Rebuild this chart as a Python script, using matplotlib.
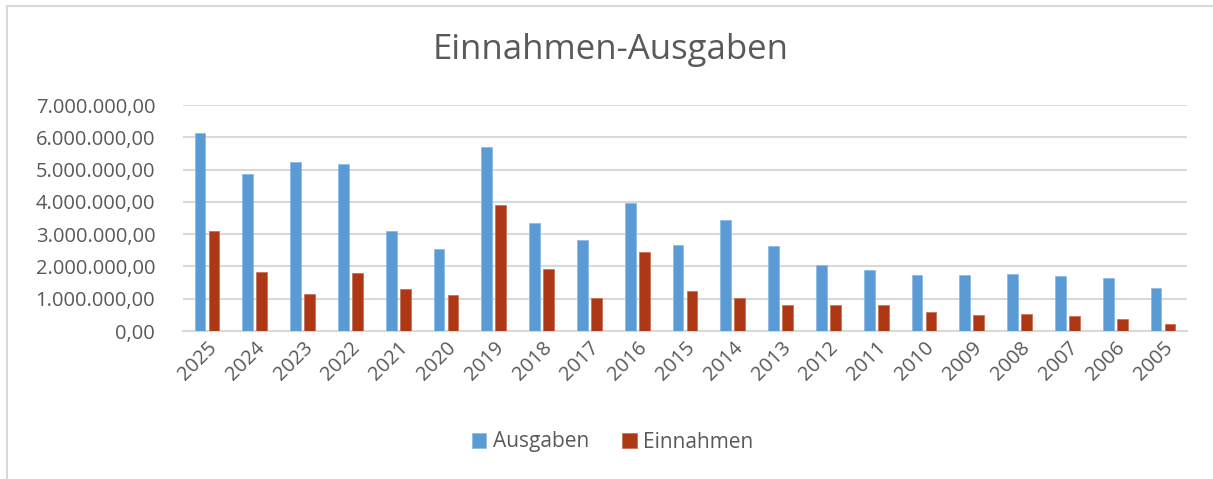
#!/usr/bin/env python3

import numpy as np
import matplotlib
matplotlib.use('Agg')
from matplotlib import pyplot as plt
from matplotlib.ticker import FuncFormatter, MultipleLocator
from matplotlib.lines import Line2D

years = ['2025', '2024', '2023', '2022', '2021', '2020', '2019', '2018', '2017', '2016', '2015',
         '2014', '2013', '2012', '2011', '2010', '2009', '2008', '2007', '2006', '2005']

# values
ausgaben = [6140000, 4860000, 5230000, 5170000, 3110000, 2550000, 5710000, 3340000, 2810000, 3970000, 2660000,
            3440000, 2620000, 2030000, 1880000, 1750000, 1740000, 1760000, 1710000, 1630000, 1330000]
einnahmen = [3090000, 1820000, 1160000, 1810000, 1290000, 1110000, 3900000, 1930000, 1020000, 2460000, 1230000,
             1010000, 820000, 790000, 820000, 580000, 490000, 540000, 460000, 370000, 220000]

blue = '#5B9BD5'
red = '#AE3816'
grey = '#595959'
gridc = '#D9D9D9'

plt.rcParams['font.family'] = ['Open Sans', 'DejaVu Sans']

fig = plt.figure(figsize=(12.13, 4.79), dpi=100)
ax = fig.add_axes([183 / 1213, 1 - 331 / 479, (1187 - 183) / 1213, (331 - 105) / 479])

x = np.arange(len(years))
w = 0.225
off = 0.146
ax.bar(x - off, ausgaben, w, color=blue, edgecolor='#8DBCE6', linewidth=0.6, label='Ausgaben', zorder=3)
ax.bar(x + off, einnahmen, w, color=red, edgecolor='#C8735A', linewidth=0.6, label='Einnahmen', zorder=3)

ax.set_xlim(-0.5, len(years) - 0.5)
ax.set_ylim(0, 7000000)
ax.yaxis.set_major_locator(MultipleLocator(1000000))


def de_fmt(v, pos):
    s = '{:,.2f}'.format(v)
    return s.replace(',', 'X').replace('.', ',').replace('X', '.')


ax.yaxis.set_major_formatter(FuncFormatter(de_fmt))
ax.grid(axis='y', color=gridc, linewidth=1.5, zorder=0)
for sp in ['top', 'right', 'left']:
    ax.spines[sp].set_visible(False)
ax.spines['bottom'].set_color(gridc)
ax.spines['bottom'].set_linewidth(1.5)
ax.tick_params(axis='both', length=0, colors=grey, labelsize=14.5)
ax.tick_params(axis='y', pad=20)
ax.set_xticks(x)
ax.set_xticklabels(years, rotation=45, ha='right', rotation_mode='anchor')
ax.tick_params(axis='x', pad=5)

fig.text(0.503, 1 - 50 / 479, 'Einnahmen-Ausgaben', ha='center', va='center', fontsize=25, color=grey)

fig.legend(loc='center', bbox_to_anchor=(0.505, 1 - 442 / 479), ncol=2, frameon=False,
           fontsize=15, labelcolor=grey, handlelength=0.7, handleheight=0.7, handletextpad=0.3,
           columnspacing=1.6)

# chart border (only left and top visible in the crop)
fig.add_artist(Line2D([7 / 1213, 7 / 1213], [0, 1 - 6 / 479], transform=fig.transFigure, color=gridc, linewidth=1.5))
fig.add_artist(Line2D([7 / 1213, 1], [1 - 6 / 479, 1 - 6 / 479], transform=fig.transFigure, color=gridc, linewidth=1.5))

fig.savefig('out.png', dpi=100)
